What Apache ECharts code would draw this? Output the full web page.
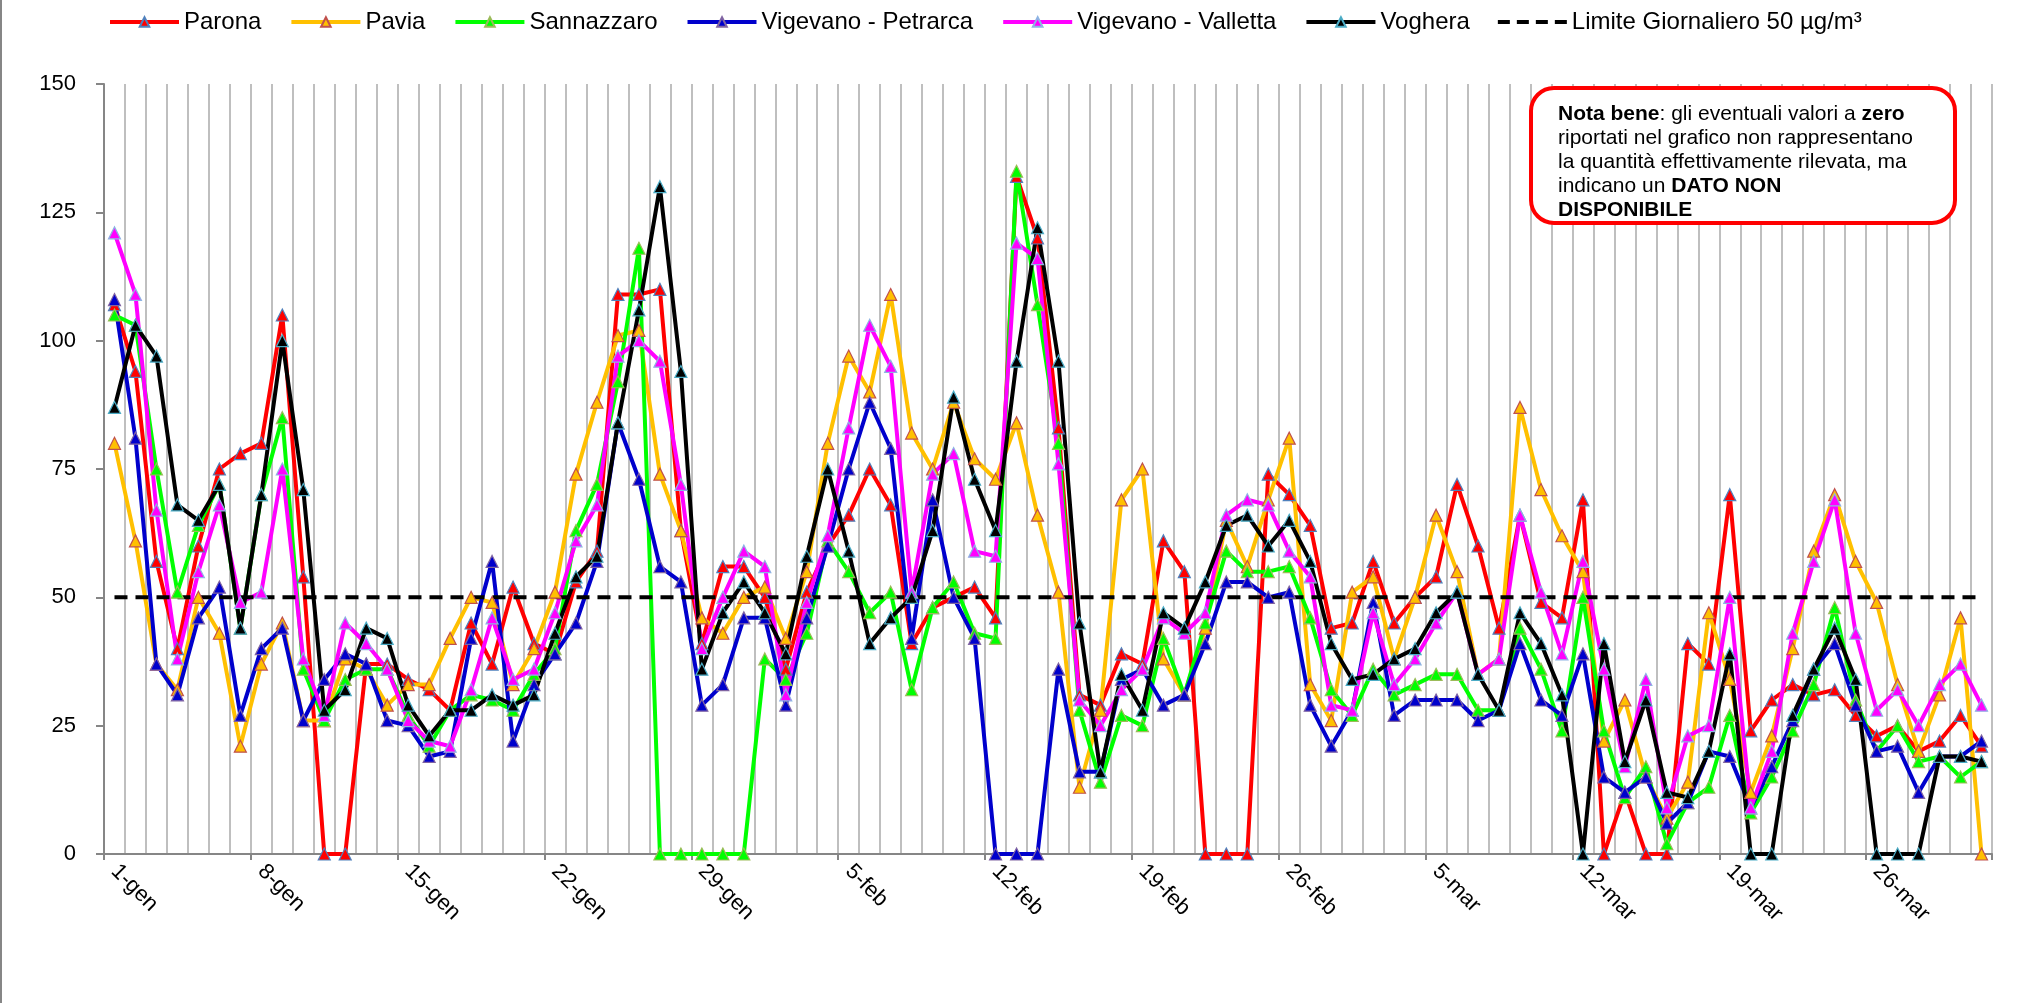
<!DOCTYPE html>
<html><head><meta charset="utf-8">
<script src="https://cdn.jsdelivr.net/npm/echarts@6/dist/echarts.min.js"></script>
<style>html,body{margin:0;padding:0;background:#fff}#c{width:2036px;height:1003px}</style>
</head><body><div id="c"></div>
<script>
const categories = [
'1-gen','2-gen','3-gen','4-gen','5-gen','6-gen','7-gen','8-gen','9-gen','10-gen','11-gen','12-gen','13-gen','14-gen','15-gen','16-gen','17-gen','18-gen','19-gen','20-gen','21-gen','22-gen','23-gen','24-gen','25-gen','26-gen','27-gen','28-gen','29-gen','30-gen','31-gen',
'1-feb','2-feb','3-feb','4-feb','5-feb','6-feb','7-feb','8-feb','9-feb','10-feb','11-feb','12-feb','13-feb','14-feb','15-feb','16-feb','17-feb','18-feb','19-feb','20-feb','21-feb','22-feb','23-feb','24-feb','25-feb','26-feb','27-feb','28-feb',
'1-mar','2-mar','3-mar','4-mar','5-mar','6-mar','7-mar','8-mar','9-mar','10-mar','11-mar','12-mar','13-mar','14-mar','15-mar','16-mar','17-mar','18-mar','19-mar','20-mar','21-mar','22-mar','23-mar','24-mar','25-mar','26-mar','27-mar','28-mar','29-mar','30-mar','31-mar'];

const parona = [107,94,57,40,60,75,78,80,105,54,0,0,37,37,34,32,28,45,37,52,41,39,53,59,109,109,110,63,41,56,56,50,36,51,60,66,75,68,41,48,50,52,46,132,120,83,31,29,39,37,61,55,0,0,0,74,70,64,44,45,57,45,50,54,72,60,44,66,49,46,69,0,12,0,0,41,37,70,24,30,33,31,32,27,23,25,20,22,27,21];
const pavia = [80,61,37,32,50,43,21,37,45,26,26,38,36,29,33,33,42,50,49,33,40,51,74,88,101,102,74,63,46,43,50,52,42,55,80,97,90,109,82,75,88,77,73,84,66,51,13,28,69,75,38,31,44,65,56,69,81,33,26,51,54,38,50,66,55,35,38,87,71,62,55,22,30,15,7,14,47,34,12,23,40,59,70,57,49,33,20,31,46,0];
const sannazzaro = [105,103,75,51,64,72,44,70,85,36,26,34,36,36,27,21,28,31,30,28,35,40,63,72,92,118,0,0,0,0,0,38,34,43,61,55,47,51,32,48,53,43,42,133,107,80,28,14,27,25,42,31,45,59,55,55,56,46,32,27,36,31,33,35,35,28,28,44,36,24,50,24,11,17,2,10,13,27,8,15,24,33,48,30,20,25,18,19,15,18];
const petrarca = [108,81,37,31,46,52,27,40,44,26,34,39,37,26,25,19,20,42,57,22,33,39,45,57,84,73,56,53,29,33,46,46,29,46,60,75,88,79,42,69,50,42,0,0,0,36,16,16,34,36,29,31,41,53,53,50,51,29,21,28,49,27,30,30,30,26,28,41,30,27,39,15,12,15,6,10,20,19,9,17,26,36,41,29,20,21,12,19,19,22];
const valletta = [121,109,67,38,55,68,49,51,75,38,27,45,41,36,26,22,21,32,46,34,36,47,61,68,97,100,96,72,40,50,59,56,31,49,62,83,103,95,51,74,78,59,58,119,116,76,30,25,32,36,46,43,47,66,69,68,59,54,29,28,47,33,38,45,51,35,38,66,51,39,57,36,17,34,9,23,25,50,9,20,43,57,69,43,28,32,25,33,37,29];
const voghera = [87,103,97,68,65,72,44,70,100,71,28,32,44,42,29,23,28,28,31,29,31,43,54,58,84,106,130,94,36,47,53,47,39,58,75,59,41,46,50,63,89,73,63,96,122,96,45,16,35,28,47,44,53,64,66,60,65,57,41,34,35,38,40,47,51,35,28,47,41,31,0,41,18,30,12,11,20,39,0,0,27,36,44,34,0,0,0,19,19,18];
const limitValue = 50;
const yTicks = [0,25,50,75,100,125,150];

const seriesDefs = [
  {name:'Parona', data:parona, color:'#FF0000', border:'#4F81BD'},
  {name:'Pavia', data:pavia, color:'#FFC000', border:'#C0504D'},
  {name:'Sannazzaro', data:sannazzaro, color:'#00FF00', border:'#9BBB59'},
  {name:'Vigevano - Petrarca', data:petrarca, color:'#0000CC', border:'#8064A2'},
  {name:'Vigevano - Valletta', data:valletta, color:'#FF00FF', border:'#8EB4E3'},
  {name:'Voghera', data:voghera, color:'#000000', border:'#4BACC6'}
];
const limitName = 'Limite Giornaliero 50 µg/m³';

const FONT = '"Liberation Sans", Arial, sans-serif';
const chart = echarts.init(document.getElementById('c'), null, {renderer:'canvas'});

const series = seriesDefs.map(s => ({
  name: s.name, type:'line', data: s.data,
  symbol:'triangle', symbolSize: 12, showAllSymbol: true,
  lineStyle:{color:s.color, width:4},
  itemStyle:{color:s.color, borderColor:s.border, borderWidth:1.2},
  emphasis:{disabled:true}, animation:false
}));
series.push({
  name:limitName, type:'line',
  data: categories.map(() => limitValue),
  symbol:'none',
  lineStyle:{color:'#000', width:4, type:[13,8]},
  itemStyle:{color:'#000'},
  emphasis:{disabled:true}, animation:false
});

const legendData = seriesDefs.map(s => s.name);
legendData.push({
  name: limitName,
  icon: 'path://M0,0M69,12M0,4H12V8H0Z M19,4H31V8H19Z M38,4H50V8H38Z M57,4H69V8H57Z',
  itemStyle:{color:'#000', borderWidth:0}
});

const option = {
  animation:false,
  backgroundColor:'#fff',
  textStyle:{fontFamily:FONT},
  legend:{
    top:5, left:103,
    itemWidth:69, itemHeight:12, itemGap:28,
    lineStyle:{width:4},
    textStyle:{fontFamily:FONT, fontSize:24, color:'#000'},
    data: legendData
  },
  grid:{left:104, top:84, width:1888, height:770, containLabel:false},
  xAxis:{
    type:'category', data:categories, boundaryGap:true,
    axisLine:{lineStyle:{color:'#868686', width:2}},
    axisTick:{show:true, interval:6, length:6, lineStyle:{color:'#868686', width:2}},
    axisLabel:{interval:6, rotate:-45, fontSize:22, color:'#000', fontFamily:FONT, margin:14},
    splitLine:{show:true, interval:0, lineStyle:{color:'#BFBFBF', width:2}}
  },
  yAxis:{
    type:'value', min:yTicks[0], max:yTicks[yTicks.length-1], interval:25,
    axisLine:{show:true, lineStyle:{color:'#868686', width:2}},
    axisTick:{show:true, length:8, inside:false, lineStyle:{color:'#868686', width:2}},
    axisLabel:{fontSize:22, color:'#000', fontFamily:FONT, margin:28},
    splitLine:{show:false}
  },
  series: series,
  graphic:[
    {type:'line', shape:{x1:1, y1:0, x2:1, y2:1003}, style:{stroke:'#868686', lineWidth:2}, silent:true},
    {type:'rect', shape:{x:1531, y:88, width:424, height:135, r:23},
     style:{fill:'#fff', stroke:'#FF0000', lineWidth:4}, z:100},
    {type:'text', x:1558, y:102, z:101,
     style:{
       text:'{b|Nota bene}: gli eventuali valori a {b|zero}\nriportati nel grafico non rappresentano\nla quantità effettivamente rilevata, ma\nindicano un {b|DATO NON}\n{b|DISPONIBILE}',
       font:'21px ' + FONT, fill:'#000', lineHeight:24,
       rich:{b:{fontWeight:'bold', fontSize:21, fontFamily:FONT, lineHeight:24, fill:'#000'}}
     }}
  ]
};
chart.setOption(option);
</script></body></html>
